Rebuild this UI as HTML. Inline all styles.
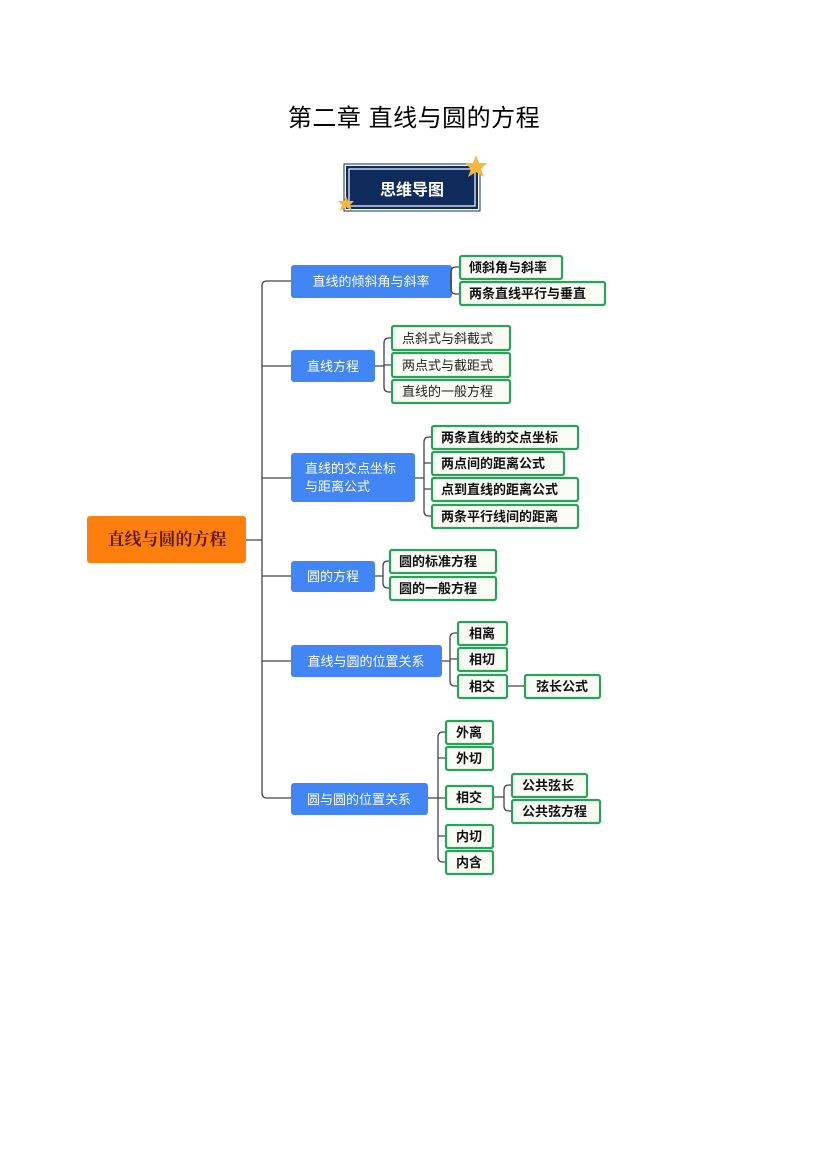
<!DOCTYPE html>
<html><head><meta charset="utf-8"><style>
html,body{margin:0;padding:0;background:#fff;}
svg{display:block;}
text{font-family:"Liberation Sans","Noto Sans CJK SC",sans-serif;}
.b{fill:#4285f4;}
.bt{fill:#fff;font-size:13px;}
.g{fill:#fbfbf5;stroke:#27a35a;stroke-width:2.2;}
.gt{fill:#111;font-size:13px;font-weight:bold;}
.gn{fill:#222;font-size:13px;}
.l{fill:none;stroke:#444;stroke-width:1.3;}
</style></head><body>
<svg width="827" height="1169" viewBox="0 0 827 1169" xmlns="http://www.w3.org/2000/svg">
<text x="414" y="126" text-anchor="middle" style="font-size:24px;fill:#000;letter-spacing:0.5px">第二章  直线与圆的方程</text>
<!-- badge -->
<rect x="344" y="164" width="136" height="47" fill="#fff" stroke="#0f2b5b" stroke-width="1"/>
<rect x="346" y="166" width="132" height="43" fill="#0f2b5b"/>
<rect x="349" y="169" width="126" height="37" fill="none" stroke="#fff" stroke-width="1.2"/>
<text x="412" y="195" text-anchor="middle" style="font-size:16px;font-weight:bold;fill:#fff">思维导图</text>
<polygon points="476,155 479,163 487,163 481,169 484,177 476,172 468,177 471,169 465,163 473,163" fill="#f6b73c"/>
<polygon points="346,196 348,201 354,201 350,205 352,211 346,207 340,211 342,205 338,201 344,201" fill="#f6b73c"/>
<!-- root -->
<rect x="87" y="516" width="159" height="47" rx="3" fill="#ff7f0e"/>
<text x="167" y="545" text-anchor="middle" style="font-size:17px;font-weight:bold;fill:#5a1a0a;font-family:'Liberation Serif','Noto Serif CJK SC',serif">直线与圆的方程</text>
<!-- spine -->
<path class="l" d="M246 540 H262 M262 286 Q262 281 267 281 H291 M262 286 V793 Q262 798 267 798 H291 M262 366 H291 M262 478 H291 M262 576 H291 M262 661 H291"/>
<!-- blue nodes -->
<rect class="b" x="291" y="265" width="161" height="33" rx="3"/><text class="bt" x="371" y="286" text-anchor="middle">直线的倾斜角与斜率</text>
<rect class="b" x="291" y="350" width="84" height="32" rx="3"/><text class="bt" x="333" y="371" text-anchor="middle">直线方程</text>
<rect class="b" x="291" y="453" width="124" height="49" rx="3"/><text class="bt" x="305" y="473">直线的交点坐标</text><text class="bt" x="305" y="491">与距离公式</text>
<rect class="b" x="291" y="561" width="84" height="31" rx="3"/><text class="bt" x="333" y="581" text-anchor="middle">圆的方程</text>
<rect class="b" x="291" y="645" width="151" height="32" rx="3"/><text class="bt" x="366" y="666" text-anchor="middle">直线与圆的位置关系</text>
<rect class="b" x="291" y="783" width="137" height="32" rx="3"/><text class="bt" x="359" y="804" text-anchor="middle">圆与圆的位置关系</text>
<!-- connectors -->
<path class="l" d="M452 281 H451 M451 272 Q451 267 456 267 H460 M451 272 V289 Q451 294 456 294 H460"/>
<path class="l" d="M375 366 H384 M384 343 Q384 338 389 338 H392 M384 343 V387 Q384 392 389 392 H392 M384 365 H392"/>
<path class="l" d="M415 478 H424 M424 442 Q424 437 429 437 H432 M424 442 V511 Q424 516 429 516 H432 M424 463 H432 M424 489 H432"/>
<path class="l" d="M375 576 H383 M383 566 Q383 561 388 561 H390 M383 566 V583 Q383 588 388 588 H390"/>
<path class="l" d="M442 661 H450 M450 638 Q450 633 455 633 H458 M450 638 V681 Q450 686 455 686 H458 M450 659 H458 M507 686 H525"/>
<path class="l" d="M428 798 H446 M438 737 Q438 732 443 732 H446 M438 737 V857 Q438 862 443 862 H446 M438 758 H446 M438 836 H446 M493 797 H504 M504 790 Q504 785 509 785 H512 M504 790 V806 Q504 811 509 811 H512"/>
<!-- green nodes -->
<rect class="g" x="460" y="256" width="102" height="23" rx="2"/><text class="gt" x="469" y="272">倾斜角与斜率</text>
<rect class="g" x="460" y="282" width="145" height="23" rx="2"/><text class="gt" x="469" y="298">两条直线平行与垂直</text>
<rect class="g" x="392" y="326" width="118" height="24" rx="2"/><text class="gn" x="402" y="343">点斜式与斜截式</text>
<rect class="g" x="392" y="353" width="118" height="24" rx="2"/><text class="gn" x="402" y="370">两点式与截距式</text>
<rect class="g" x="392" y="380" width="118" height="23" rx="2"/><text class="gn" x="402" y="396">直线的一般方程</text>
<rect class="g" x="432" y="426" width="146" height="23" rx="2"/><text class="gt" x="441" y="442">两条直线的交点坐标</text>
<rect class="g" x="432" y="452" width="132" height="23" rx="2"/><text class="gt" x="441" y="468">两点间的距离公式</text>
<rect class="g" x="432" y="478" width="146" height="23" rx="2"/><text class="gt" x="441" y="494">点到直线的距离公式</text>
<rect class="g" x="432" y="505" width="146" height="23" rx="2"/><text class="gt" x="441" y="521">两条平行线间的距离</text>
<rect class="g" x="390" y="550" width="106" height="23" rx="2"/><text class="gt" x="399" y="566">圆的标准方程</text>
<rect class="g" x="390" y="577" width="106" height="23" rx="2"/><text class="gt" x="399" y="593">圆的一般方程</text>
<rect class="g" x="458" y="622" width="49" height="23" rx="2"/><text class="gt" x="469" y="638">相离</text>
<rect class="g" x="458" y="648" width="49" height="23" rx="2"/><text class="gt" x="469" y="664">相切</text>
<rect class="g" x="458" y="675" width="49" height="23" rx="2"/><text class="gt" x="469" y="691">相交</text>
<rect class="g" x="525" y="675" width="75" height="23" rx="2"/><text class="gt" x="536" y="691">弦长公式</text>
<rect class="g" x="446" y="721" width="47" height="23" rx="2"/><text class="gt" x="456" y="737">外离</text>
<rect class="g" x="446" y="747" width="47" height="23" rx="2"/><text class="gt" x="456" y="763">外切</text>
<rect class="g" x="446" y="786" width="47" height="23" rx="2"/><text class="gt" x="456" y="802">相交</text>
<rect class="g" x="446" y="825" width="47" height="23" rx="2"/><text class="gt" x="456" y="841">内切</text>
<rect class="g" x="446" y="851" width="47" height="23" rx="2"/><text class="gt" x="456" y="867">内含</text>
<rect class="g" x="512" y="774" width="75" height="23" rx="2"/><text class="gt" x="522" y="790">公共弦长</text>
<rect class="g" x="512" y="800" width="88" height="23" rx="2"/><text class="gt" x="522" y="816">公共弦方程</text>
</svg>
</body></html>
